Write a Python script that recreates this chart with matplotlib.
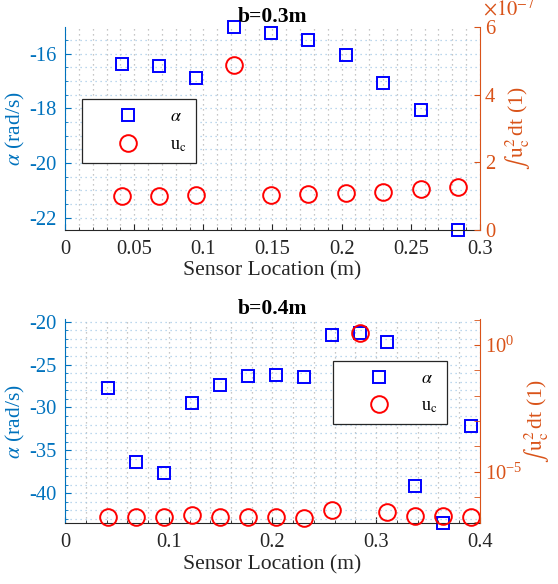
import numpy as np
import matplotlib
matplotlib.use("Agg")
from matplotlib import pyplot as plt
from matplotlib.ticker import AutoMinorLocator, FixedLocator, FuncFormatter, NullFormatter
from matplotlib.lines import Line2D

plt.rcParams['font.family'] = 'serif'
plt.rcParams['font.serif'] = ['Liberation Serif', 'DejaVu Serif']
plt.rcParams['mathtext.fontset'] = 'stix'
plt.rcParams['axes.unicode_minus'] = False

# sensor positions (m)
x_03 = [0.041, 0.068, 0.095, 0.122, 0.149, 0.176, 0.203, 0.230, 0.257, 0.284]
x_04 = [0.041, 0.068, 0.095, 0.122, 0.149, 0.176, 0.203, 0.230, 0.257, 0.284,
        0.310, 0.337, 0.364, 0.391]

# alpha (rad/s)
alpha_03 = [-16.37, -16.45, -16.89, -15.04, -15.25, -15.49, -16.04, -17.07, -18.08, -22.45]
alpha_04 = [-27.69, -36.32, -37.67, -29.44, -27.41, -26.29, -26.25, -26.41, -21.55, -21.35,
            -22.40, -39.2, -43.5, -32.2]

# integral of u_c^2
uc_03 = [1.00e-7, 0.99e-7, 1.03e-7, 4.87e-7, 1.02e-7, 1.07e-7, 1.10e-7, 1.13e-7, 1.22e-7, 1.27e-7]
uc_04 = [1.67e-7, 1.67e-7, 1.58e-7, 1.95e-7, 1.58e-7, 1.58e-7, 1.58e-7, 1.53e-7, 3.09e-7, 2.88,
         2.63e-7, 1.82e-7, 1.82e-7, 1.67e-7]

BLUE_AX = '#0072BD'
ORANGE_AX = '#D95319'
DARK = '#262626'
FS = 14.8      # tick labels
FS_LAB = 15.6  # axis labels / titles


def style_axes(ax, ax2, title, rpad):
	ax.spines['top'].set_visible(False)
	ax.spines['right'].set_visible(False)
	ax.spines['left'].set_color(BLUE_AX)
	ax.spines['bottom'].set_color(DARK)
	for s in ['top', 'left', 'bottom']:
		ax2.spines[s].set_visible(False)
	ax2.spines['right'].set_color(ORANGE_AX)

	ax.tick_params(axis='x', which='both', direction='in', colors=DARK, labelsize=FS, top=False)
	ax.tick_params(axis='x', which='major', length=4, pad=7)
	ax.tick_params(axis='x', which='minor', length=2)
	ax.tick_params(axis='y', which='both', direction='in', colors=BLUE_AX, labelsize=FS, right=False)
	ax.tick_params(axis='y', which='major', length=4, pad=6)
	ax.tick_params(axis='y', which='minor', length=2)
	ax2.tick_params(axis='y', which='both', direction='in', colors=ORANGE_AX, labelsize=FS, length=4)

	ax.xaxis.grid(True, which='both', color='#b4b4b4', ls=(0, (1, 3)), lw=0.9)
	ax.yaxis.grid(True, which='both', color='#a6cbe8', ls=(0, (1, 3)), lw=0.9)
	ax.set_axisbelow(True)

	ax.set_title(title, fontsize=FS_LAB, fontweight='bold', pad=1.5)
	ax.set_xlabel('Sensor Location (m)', fontsize=FS_LAB, color=DARK, labelpad=2)
	ax.set_ylabel(r'$\alpha$ (rad/s)', fontsize=FS_LAB, color=BLUE_AX, labelpad=2)
	ax2.set_ylabel(r'$\int\,\mathrm{u}_\mathrm{c}^\mathrm{2}\,$dt (1)', fontsize=FS_LAB, color=ORANGE_AX,
		labelpad=rpad)


def legend_handles():
	h1 = Line2D([], [], ls='none', marker='s', ms=8.6, mfc='none', mec='#0000ff', mew=1.4)
	h2 = Line2D([], [], ls='none', marker='o', ms=12, mfc='none', mec='#ff0000', mew=1.4)
	return [h1, h2], [r'$\alpha$', r'u$_\mathrm{c}$']


def add_legend(axis, anchor):
	h, l = legend_handles()
	leg = axis.legend(h, l, loc='upper left', bbox_to_anchor=anchor, bbox_transform=fig.transFigure,
		fontsize=13, frameon=True, fancybox=False, framealpha=1, edgecolor='#262626',
		handlelength=4.1, handletextpad=0.3, borderpad=0.5, labelspacing=0.6, borderaxespad=0)
	leg.get_frame().set_linewidth(0.9)
	return leg


fig = plt.figure(figsize=(5.58, 5.84), dpi=100)

# ---- b = 0.3 m ----
ax = fig.add_axes([0.1165, 0.6062, 0.7437, 0.3476])
ax2 = ax.twinx()
ax.plot(x_03, alpha_03, ls='none', marker='s', ms=8.6, mfc='none', mec='#0000ff', mew=1.4, clip_on=False)
ax2.plot(x_03, uc_03, ls='none', marker='o', ms=12, mfc='none', mec='#ff0000', mew=1.4, clip_on=False)
ax.set_xlim(0, 0.3)
ax.set_ylim(-22.45, -15.03)
ax.set_xticks([0, 0.05, 0.1, 0.15, 0.2, 0.25, 0.3])
ax.set_xticklabels(['0', '0.05', '0.1', '0.15', '0.2', '0.25', '0.3'])
ax.xaxis.set_minor_locator(AutoMinorLocator(5))
ax.set_yticks([-22, -20, -18, -16])
ax.yaxis.set_minor_locator(AutoMinorLocator(4))
ax2.set_ylim(0, 6e-7)
ax2.set_yticks([0, 2e-7, 4e-7, 6e-7])
ax2.yaxis.set_major_formatter(FuncFormatter(lambda v, p: f'{v * 1e7:g}'))
style_axes(ax, ax2, 'b=0.3m', 6)
fig.text(0.866, 0.984, r'$\times10^{-7}$', fontsize=FS, color=ORANGE_AX, ha='left', va='center')
add_legend(ax2, (0.147, 0.830))

# ---- b = 0.4 m ----
bx = fig.add_axes([0.1165, 0.1039, 0.7437, 0.3494])
bx2 = bx.twinx()
bx.plot(x_04, alpha_04, ls='none', marker='s', ms=8.6, mfc='none', mec='#0000ff', mew=1.4, clip_on=False)
bx2.plot(x_04, uc_04, ls='none', marker='o', ms=12, mfc='none', mec='#ff0000', mew=1.4, clip_on=False)
bx.set_xlim(0, 0.4)
bx.set_ylim(-43.5, -19.72)
bx.set_xticks([0, 0.1, 0.2, 0.3, 0.4])
bx.set_xticklabels(['0', '0.1', '0.2', '0.3', '0.4'])
bx.xaxis.set_minor_locator(AutoMinorLocator(5))
bx.set_yticks([-40, -35, -30, -25, -20])
bx.yaxis.set_minor_locator(AutoMinorLocator(5))
bx2.set_yscale('log')
bx2.set_ylim(10 ** -7.04, 10 ** 1.01)
bx2.yaxis.set_major_locator(FixedLocator([1e-5, 1e0]))
bx2.yaxis.set_minor_locator(FixedLocator([1e-7, 1e-6, 1e-4, 1e-3, 1e-2, 1e-1, 1e1]))
bx2.yaxis.set_minor_formatter(NullFormatter())
style_axes(bx, bx2, 'b=0.4m', 0)
add_legend(bx2, (0.596, 0.382))

fig.savefig('out.png', dpi=100)
